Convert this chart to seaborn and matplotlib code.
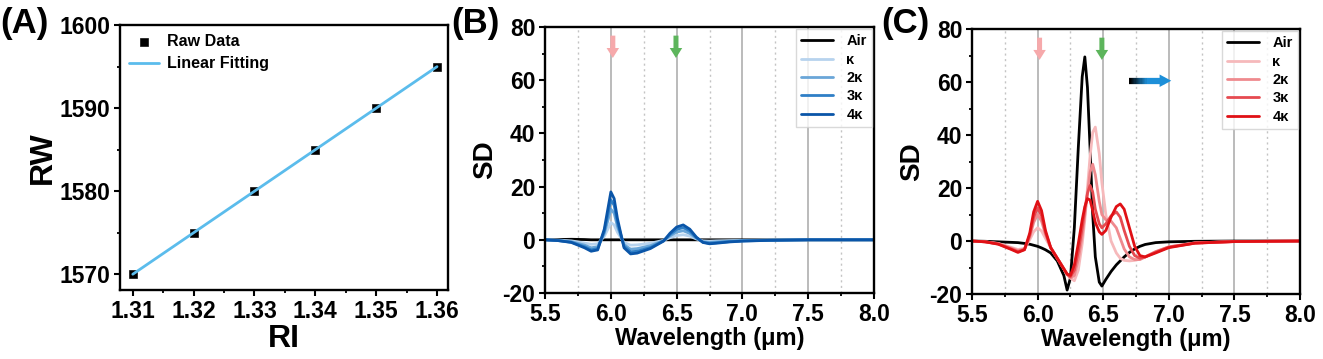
import numpy as np
import pandas as pd
import matplotlib
matplotlib.use("Agg")
import matplotlib.pyplot as plt
from matplotlib.collections import LineCollection
from matplotlib.ticker import MultipleLocator, FixedLocator, FixedFormatter
import seaborn as sns

# ---------------- data ----------------
ri = [1.31, 1.32, 1.33, 1.34, 1.35, 1.36]
rw = [1570, 1575, 1580, 1585, 1590, 1595]
fit_ri = [1.31, 1.36]
fit_rw = [1570, 1595]

labels = ["Air", "\u03ba", "2\u03ba", "3\u03ba", "4\u03ba"]

wl_b = [5.5, 5.6, 5.7, 5.8, 5.85, 5.9, 5.95, 5.975, 6.0, 6.025, 6.05, 6.1, 6.15, 6.2,
        6.3, 6.4, 6.45, 6.5, 6.55, 6.6, 6.65, 6.7, 6.75, 6.8, 6.9, 7.0, 7.2, 7.5, 8.0]
b_air = [0, 0.1, 0.2, 0.1, 0, 0, 0, 0, 0, 0, 0, 0, 0, 0,
         0, 0, 0, 0, 0, 0, 0, 0, 0, 0, 0, 0, 0, 0, 0]
b_k1 = [0, -0.1, -0.4, -1.2, -1.7, -1.5, 1.3, 3.8, 6.5, 5.6, 2.8, -1.0, -2.0, -1.9,
        -1.3, -0.2, 0.8, 1.6, 1.9, 1.4, 0.3, -0.4, -0.5, -0.4, -0.3, -0.2, -0.1, 0, 0]
b_k2 = [0, -0.2, -0.7, -2.0, -3.0, -2.6, 2.4, 6.8, 11.5, 10.0, 5.0, -1.8, -3.5, -3.3,
        -2.2, -0.3, 1.5, 2.9, 3.4, 2.4, 0.6, -0.7, -1.0, -0.8, -0.5, -0.3, -0.1, 0, 0]
b_k3 = [0, -0.3, -0.9, -2.6, -3.8, -3.3, 3.2, 9.0, 15.0, 13.0, 6.5, -2.4, -4.5, -4.3,
        -2.9, -0.4, 2.0, 3.9, 4.6, 3.3, 0.8, -0.9, -1.3, -1.1, -0.7, -0.4, -0.2, 0, 0]
b_k4 = [0, -0.3, -1.0, -3.0, -4.3, -3.8, 4.0, 11.0, 18.0, 15.5, 8.0, -3.0, -5.3, -5.0,
        -3.3, -0.5, 2.5, 4.8, 5.6, 4.0, 1.0, -1.0, -1.5, -1.3, -0.8, -0.5, -0.2, 0, 0]

wl_c = [5.5, 5.6, 5.7, 5.8, 5.85, 5.9, 5.94, 5.97, 6.0, 6.03, 6.06, 6.1, 6.15, 6.2,
        6.225, 6.25, 6.28, 6.31, 6.34, 6.36, 6.38, 6.4, 6.42, 6.44, 6.47, 6.49, 6.52,
        6.56, 6.6, 6.63, 6.66, 6.7, 6.74, 6.78, 6.82, 6.9, 7.0, 7.2, 7.5, 8.0]
c_air = [0, -0.1, -0.3, -0.5, -0.6, -0.9, -1.2, -1.6, -2.0, -2.6, -3.3, -4.5, -7.5, -13,
         -18.5, -14, 5, 35, 62, 69.5, 58, 35, 10, -6, -15.5, -17, -14.5,
         -11.5, -9, -7.5, -6, -4.3, -3, -2, -1.3, -0.6, -0.3, -0.1, 0, 0]
c_k1 = [0, -0.3, -0.9, -2.4, -3.2, -2.8, 0.5, 3.5, 5, 3.8, 1, -2.5, -6.5, -10.5,
        -12.5, -14, -15, -11, -1, 8, 20, 32, 41, 43, 33, 22, 10,
        0, -4.5, -6.5, -7.3, -7.5, -7.3, -6.8, -6, -4, -2.2, -0.7, -0.2, 0]
c_k2 = [0, -0.3, -1.0, -2.7, -3.6, -3.0, 1.5, 7, 10, 7.5, 2.5, -2.5, -6.5, -10.5,
        -12.5, -14, -13, -7, 2, 10, 18, 26, 29, 25, 15, 10, 8,
        7.5, 5, 1, -3, -6, -7, -7, -6, -4, -2.2, -0.7, -0.2, 0]
c_k3 = [0, -0.3, -1.1, -3.0, -4.0, -3.2, 2.2, 9, 12.5, 9.5, 3.2, -2.5, -6.5, -10.5,
        -12.5, -13.5, -11, -4, 5, 12, 18, 21, 18.5, 12, 6.5, 5, 6.5,
        9.5, 11, 9, 4, -2, -5.5, -6.5, -6, -4.2, -2.3, -0.8, -0.2, 0]
c_k4 = [0, -0.3, -1.2, -3.2, -4.3, -3.3, 3, 11, 15, 11.5, 4, -2.5, -6.5, -10.5,
        -12.5, -13, -9, -1, 8, 13, 16, 15.5, 11.5, 7, 3.5, 2.5, 4,
        9, 13, 14, 12, 5, -2, -5.5, -6, -4.5, -2.5, -0.8, -0.2, 0]

# ---------------- style ----------------
sns.set_theme(style="ticks")
plt.rcParams["font.family"] = ["Liberation Sans", "DejaVu Sans"]
plt.rcParams["font.weight"] = "bold"
plt.rcParams["axes.labelweight"] = "bold"
plt.rcParams["axes.unicode_minus"] = False
plt.rcParams["text.color"] = "black"
plt.rcParams["axes.labelcolor"] = "black"
plt.rcParams["xtick.labelcolor"] = "black"
plt.rcParams["ytick.labelcolor"] = "black"
plt.rcParams["xtick.color"] = "black"
plt.rcParams["ytick.color"] = "black"
plt.rcParams["axes.edgecolor"] = "black"
plt.rcParams["axes.linewidth"] = 1.7
plt.rcParams["xtick.major.width"] = 1.5
plt.rcParams["ytick.major.width"] = 1.5
plt.rcParams["xtick.minor.width"] = 1.3
plt.rcParams["ytick.minor.width"] = 1.3
plt.rcParams["xtick.major.size"] = 4
plt.rcParams["ytick.major.size"] = 4
plt.rcParams["xtick.minor.size"] = 2.5
plt.rcParams["ytick.minor.size"] = 2.5

fig = plt.figure(figsize=(13.23, 3.59), dpi=100)
axA = fig.add_axes([0.0907, 0.1922, 0.2479, 0.7378])
axB = fig.add_axes([0.4120, 0.1838, 0.2486, 0.7410])
axC = fig.add_axes([0.7347, 0.1810, 0.2479, 0.7380])

TICKFS = 16.5

# ---------------- panel A ----------------
sns.scatterplot(x=ri, y=rw, ax=axA, marker="s", s=30, color="black",
                edgecolor="black", label="Raw Data", zorder=2)
sns.lineplot(x=fit_ri, y=fit_rw, ax=axA, color="#5bbcec", lw=2.0,
             label="Linear Fitting", zorder=3)
axA.set_xlim(1.3079, 1.3618)
axA.set_ylim(1568.1, 1600)
axA.xaxis.set_major_locator(FixedLocator(ri))
axA.xaxis.set_major_formatter(FixedFormatter([f"{v:.2f}" for v in ri]))
axA.xaxis.set_minor_locator(MultipleLocator(0.005))
axA.yaxis.set_major_locator(MultipleLocator(10))
axA.yaxis.set_minor_locator(MultipleLocator(5))
axA.set_xlabel("RI", fontsize=23, fontweight="bold", labelpad=1)
axA.set_ylabel("RW", fontsize=23, fontweight="bold", labelpad=1)
legA = axA.legend(loc="upper left", frameon=False, fontsize=11.5, handlelength=1.9,
                  borderaxespad=0.15, labelspacing=0.45, handletextpad=0.5)
for t in legA.get_texts():
    t.set_fontweight("bold")


def style_spectrum(ax):
    ax.set_xlim(5.5, 8.0)
    ax.set_ylim(-20, 80)
    ax.xaxis.set_major_locator(MultipleLocator(0.5))
    ax.xaxis.set_minor_locator(MultipleLocator(0.25))
    ax.yaxis.set_major_locator(MultipleLocator(20))
    ax.yaxis.set_minor_locator(MultipleLocator(10))
    for xv in [6.0, 6.5, 7.0, 7.5]:
        ax.axvline(xv, color="#b5b5b5", lw=1.3, zorder=0)
    for xv in [5.75, 6.25, 6.75, 7.25, 7.75]:
        ax.axvline(xv, color="#c4c4c4", lw=1.0, ls=(0, (1.5, 2.5)), zorder=0)
    ax.set_xlabel("Wavelength (\u03bcm)", fontsize=17, fontweight="bold", labelpad=1)
    ax.set_ylabel("SD", fontsize=20, fontweight="bold", labelpad=3)


def spectrum_legend(ax):
    leg = ax.legend(loc="upper right", fontsize=10.5, handlelength=2.2,
                    borderaxespad=0.15, labelspacing=0.3, handletextpad=0.9,
                    frameon=True, fancybox=False, edgecolor="#d0d0d0",
                    borderpad=0.35)
    leg.get_frame().set_linewidth(1.0)
    for t in leg.get_texts():
        t.set_fontweight("bold")


def down_arrow(ax, x, color):
    ax.annotate("", xy=(x, 67.3), xytext=(x, 77.8),
                arrowprops=dict(arrowstyle="simple,head_width=0.75,head_length=0.6,tail_width=0.3",
                                color=color, lw=0), zorder=5)


# ---------------- panel B ----------------
b_series = [b_air, b_k1, b_k2, b_k3, b_k4]
b_colors = ["black", "#b7d3ee", "#6aa6d8", "#2f7fc6", "#0a55a8"]
for vals, lab, col in zip(b_series, labels, b_colors):
    sns.lineplot(x=wl_b, y=vals, ax=axB, color=col, lw=2.0, label=lab, sort=False)
style_spectrum(axB)
spectrum_legend(axB)
down_arrow(axB, 6.015, "#f6a9ab")
down_arrow(axB, 6.495, "#5db55c")

# ---------------- panel C ----------------
c_series = [c_air, c_k1, c_k2, c_k3, c_k4]
c_colors = ["black", "#f6b9bb", "#ef8a8e", "#e64a50", "#e01015"]
for vals, lab, col in zip(c_series, labels, c_colors):
    sns.lineplot(x=wl_c, y=vals, ax=axC, color=col, lw=2.0, label=lab, sort=False)
style_spectrum(axC)
spectrum_legend(axC)
down_arrow(axC, 6.015, "#f6a9ab")
down_arrow(axC, 6.49, "#5db55c")

# gradient arrow (black -> blue)
gx = np.linspace(6.70, 6.97, 30)
pts = np.array([[gx[:-1], np.full(29, 60.5)], [gx[1:], np.full(29, 60.5)]]).transpose(2, 0, 1)
cmap = matplotlib.colors.LinearSegmentedColormap.from_list("g", ["#000000", "#1d8fd8", "#1d8fd8"])
lc = LineCollection(pts, colors=cmap(np.linspace(0, 1, 29)), linewidths=4.5, zorder=5,
                    capstyle="butt")
axC.add_collection(lc)
axC.annotate("", xy=(7.04, 60.5), xytext=(6.96, 60.5),
             arrowprops=dict(arrowstyle="simple,head_width=0.75,head_length=0.7,tail_width=0.3",
                             color="#1d8fd8", lw=0), zorder=6)

for ax in (axA, axB, axC):
    ax.tick_params(axis="both", which="both", direction="out", labelsize=TICKFS, pad=3)
    for sp in ax.spines.values():
        sp.set_visible(True)
        sp.set_linewidth(1.7)

fig.canvas.draw()
for ax in (axA, axB, axC):
    for lab in ax.get_xticklabels() + ax.get_yticklabels():
        lab.set_fontweight("bold")

fig.text(0.0, 0.935, "(A)", fontsize=25, fontweight="bold", va="center", ha="left")
fig.text(0.341, 0.935, "(B)", fontsize=25, fontweight="bold", va="center", ha="left")
fig.text(0.666, 0.935, "(C)", fontsize=25, fontweight="bold", va="center", ha="left")

fig.savefig("out.png", dpi=100)
